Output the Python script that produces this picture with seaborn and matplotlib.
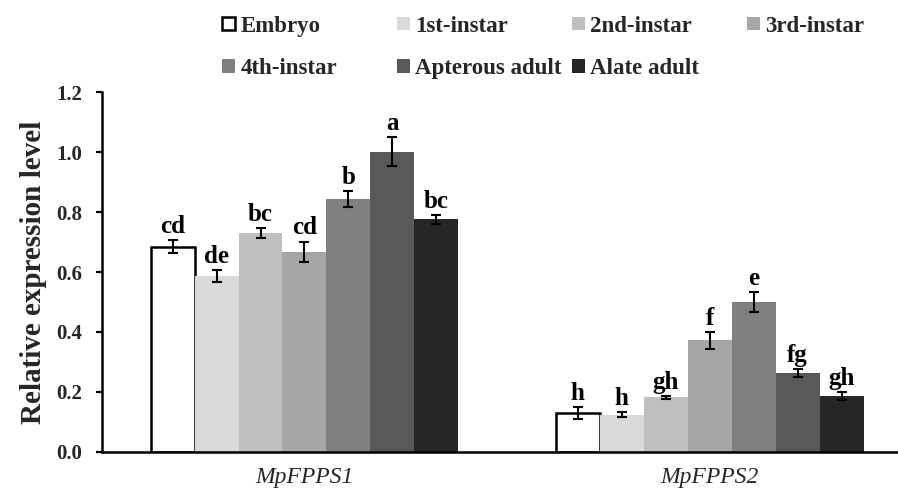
import numpy as np
import pandas as pd
import matplotlib
matplotlib.use("Agg")
import matplotlib.pyplot as plt
import seaborn as sns
from matplotlib.patches import Patch

genes = ["MpFPPS1", "MpFPPS2"]
stages = ["Embryo", "1st-instar", "2nd-instar", "3rd-instar",
          "4th-instar", "Apterous adult", "Alate adult"]
fpps1_mean = [0.685, 0.588, 0.730, 0.667, 0.845, 1.002, 0.776]
fpps1_err = [0.022, 0.020, 0.016, 0.035, 0.026, 0.048, 0.016]
fpps2_mean = [0.130, 0.123, 0.181, 0.372, 0.500, 0.262, 0.186]
fpps2_err = [0.020, 0.008, 0.006, 0.029, 0.033, 0.013, 0.013]
fpps1_letters = ["cd", "de", "bc", "cd", "b", "a", "bc"]
fpps2_letters = ["h", "h", "gh", "f", "e", "fg", "gh"]
colors = ["#ffffff", "#d9d9d9", "#bfbfbf", "#a6a6a6", "#808080", "#595959", "#262626"]
yticks = [0.0, 0.2, 0.4, 0.6, 0.8, 1.0, 1.2]

df = pd.DataFrame({
    "gene": [genes[0]] * len(stages) + [genes[1]] * len(stages),
    "stage": stages + stages,
    "value": fpps1_mean + fpps2_mean,
    "err": fpps1_err + fpps2_err,
    "letter": fpps1_letters + fpps2_letters,
})

sns.set_theme(style="white")
plt.rcParams["font.family"] = ["Liberation Serif", "DejaVu Serif"]

fig = plt.figure(figsize=(8.98, 4.88), dpi=100)
ax = fig.add_axes([0.1135, 0.0745, 0.8865, 0.736])

sns.barplot(data=df, x="gene", y="value", hue="stage", hue_order=stages,
            order=genes, palette=colors, width=0.76, errorbar=None,
            saturation=1, legend=False, ax=ax, linewidth=0)

bar_containers = list(ax.containers)
for i, cont in enumerate(bar_containers):
    for j, bar in enumerate(cont):
        if i == 0:
            bar.set_edgecolor("black")
            bar.set_linewidth(1.8)
        row = df[(df["stage"] == stages[i]) & (df["gene"] == genes[j])].iloc[0]
        xc = bar.get_x() + bar.get_width() / 2
        h = bar.get_height()
        ax.errorbar(xc, h, yerr=row["err"], fmt="none", ecolor="black",
                    elinewidth=1.5, capsize=3.5, capthick=1.5, zorder=5)
        ax.annotate(row["letter"], (xc, h + row["err"]), xytext=(0, 1.5),
                    textcoords="offset points", ha="center", va="bottom",
                    fontsize=18, fontweight="bold", color="black")

ax.set_xlim(-0.5, 1.465)
ax.set_ylim(0, 1.2)
ax.set_yticks(yticks)
ax.set_yticklabels([f"{t:.1f}" for t in yticks], fontsize=15, fontweight="bold")
ax.set_xticks([0, 1])
ax.set_xticklabels(genes, fontsize=17, fontstyle="italic")
ax.tick_params(axis="x", length=0, pad=11)
ax.tick_params(axis="y", direction="out", length=4, width=1.6, color="black", left=True, pad=10)
ax.set_xlabel("")
ax.set_ylabel("Relative expression level", fontsize=21, fontweight="bold", labelpad=7)
for s in ["top", "right"]:
    ax.spines[s].set_visible(False)
for s in ["left", "bottom"]:
    ax.spines[s].set_color("black")
    ax.spines[s].set_linewidth(1.8)

handles = [Patch(facecolor=c, edgecolor="black" if k == 0 else c,
                 linewidth=1.8 if k == 0 else 0) for k, c in enumerate(colors)]
col_x = [222, 397, 572, 747]
for c, x in enumerate(col_x):
    idx = [k for k in (c, c + 4) if k < len(stages)]
    lg = fig.legend([handles[k] for k in idx], [stages[k] for k in idx],
                    loc="upper left", bbox_to_anchor=(x / 898, 0.968),
                    frameon=False, borderpad=0, borderaxespad=0,
                    prop={"family": "Liberation Serif", "weight": "bold", "size": 16.5},
                    handlelength=0.55, handleheight=0.55, handletextpad=0.25,
                    labelspacing=0.95)

fig.savefig("out.png", dpi=100)
